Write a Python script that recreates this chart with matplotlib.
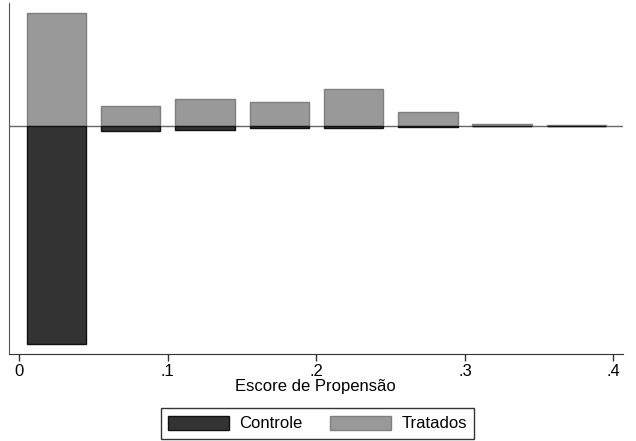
import numpy as np
import matplotlib
matplotlib.use("Agg")
import matplotlib.pyplot as plt
from matplotlib.patches import Patch

plt.rcParams['font.family'] = ['Liberation Sans', 'DejaVu Sans']

# bin centres of the propensity score and bar heights (relative frequency, arbitrary units)
bin_centers = [0.025, 0.075, 0.125, 0.175, 0.225, 0.275, 0.325, 0.375]
bin_width = 0.04
tratados = [113, 20, 26.7, 23.7, 36.7, 13.7, 2.0, 1.0]
controle = [218, 5.3, 4.3, 1.7, 2.3, 0.7, 0.3, 0.1]
xticks = [0, 0.1, 0.2, 0.3, 0.4]
xtick_labels = ["0", ".1", ".2", ".3", ".4"]

fig = plt.figure(figsize=(6.36, 4.41), dpi=100)
ax = fig.add_axes([8.7 / 636, 1 - 354 / 441, (623 - 8.7) / 636, (354 - 3) / 441])

ax.bar(bin_centers, tratados, width=bin_width, color="#999999",
       edgecolor="#7f7f7f", linewidth=1.0, zorder=2)
ax.bar(bin_centers, [-c for c in controle], width=bin_width, color="#333333",
       edgecolor="#111111", linewidth=1.0, zorder=2)
ax.axhline(0, color="#666666", linewidth=1.0, zorder=1)

ax.set_xlim(-0.0071, 0.4064)
ax.set_ylim(-228, 123)
ax.set_xticks(xticks)
ax.set_xticklabels(xtick_labels)
ax.set_yticks([])
ax.tick_params(axis="x", length=5, width=1, color="#333333", labelsize=12, pad=2)
for s in ["top", "right"]:
    ax.spines[s].set_visible(False)
ax.spines["left"].set_color("#555555")
ax.spines["bottom"].set_color("#333333")
ax.set_xlabel("Escore de Propensão", fontsize=12, labelpad=0)

handles = [Patch(facecolor="#333333", edgecolor="#111111", label="Controle"),
           Patch(facecolor="#999999", edgecolor="#7f7f7f", label="Tratados")]
leg = fig.legend(handles=handles, ncol=2, loc="center", bbox_to_anchor=(317.5 / 636, 1 - 423.5 / 441),
                 fontsize=12, frameon=True, fancybox=False, edgecolor="black",
                 handlelength=3.66, handleheight=0.9, handletextpad=0.6,
                 columnspacing=1.65, borderpad=0.45, borderaxespad=0)
leg.get_frame().set_linewidth(1.0)

fig.savefig("out.png", dpi=100)
